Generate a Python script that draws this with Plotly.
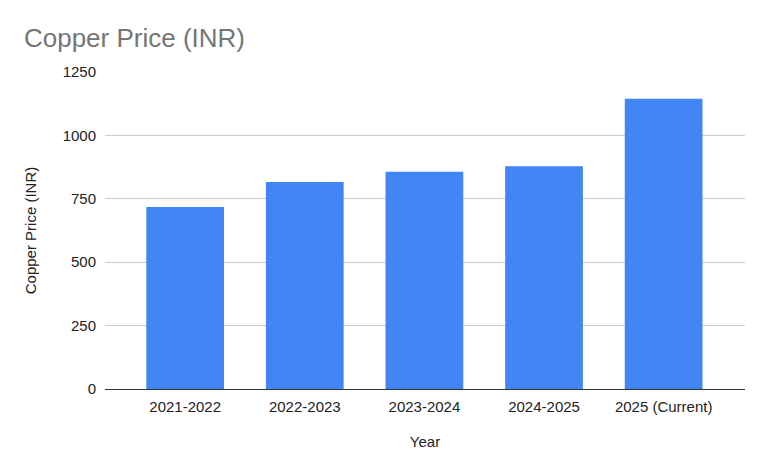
import plotly.graph_objects as go

years = ["2021-2022", "2022-2023", "2023-2024", "2024-2025", "2025 (Current)"]
prices = [718, 816, 857, 878, 1145]
y_ticks = [0, 250, 500, 750, 1000, 1250]

fig = go.Figure(go.Bar(x=years, y=prices, marker=dict(color="#4285F4", line=dict(width=0))))

# page body adds an 8px offset, so the figure is a bit smaller than the window
fig.update_layout(
    width=760, height=467,
    paper_bgcolor="white", plot_bgcolor="white",
    font=dict(family="Arial, Liberation Sans, sans-serif", color="#222222", size=15),
    title=dict(text="Copper Price (INR)", x=0.021, xanchor="left", y=0.936, yanchor="middle",
               font=dict(size=26, color="#757575")),
    margin=dict(l=97, r=23, t=64, b=86),
    bargap=0.35,
    showlegend=False,
    xaxis=dict(
        range=[-0.67, 4.68], showgrid=False, showline=True, linecolor="#333333", linewidth=1,
        ticks="", ticklabelstandoff=4,
        title=dict(text="Year", font=dict(size=15), standoff=22),
    ),
    yaxis=dict(
        range=[0, 1250], tickvals=y_ticks, gridcolor="#cccccc", zeroline=False,
        ticks="", ticklabelstandoff=8,
        title=dict(text="Copper Price (INR)", font=dict(size=15), standoff=22),
    ),
)

fig.write_html("out.html")
